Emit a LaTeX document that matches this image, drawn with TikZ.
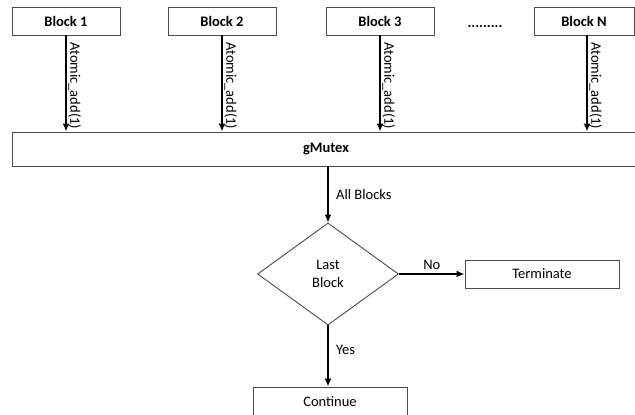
\documentclass[tikz,border=0pt]{standalone}
\usepackage{fontspec}
\setmainfont{Carlito}
\usetikzlibrary{arrows.meta,shapes.geometric,positioning}

\begin{document}
\begin{tikzpicture}[x=1pt,y=-1pt,>={Latex[length=8pt,width=7pt]},font=\fontsize{14.5}{18}\selectfont,
    block node/.style={draw=black!70,line width=0.9pt,minimum width=108,minimum height=28,inner sep=0pt,font=\fontsize{14.5}{18}\selectfont\bfseries},
    box node/.style={draw=black!70,line width=0.9pt,minimum width=154,minimum height=28,inner sep=0pt},
    decision node/.style={diamond,draw=black!70,line width=0.9pt,minimum width=141,minimum height=102,inner sep=0pt,align=center},
    flow/.style={->,line width=1.6pt,black},
    add label/.style={rotate=-90,anchor=south east,inner sep=1.5pt}]
            \clip (0,0) rectangle (635,415);
            \useasboundingbox (0,0) rectangle (635,415);

            \node[block node] (B1) at (66,21) {Block 1};
            \node[block node] (B2) at (222,21) {Block 2};
            \node[block node] (B3) at (380,21) {Block 3};
            \node[block node,minimum width=100] (BN) at (584,21) {Block N};
            \node[font=\fontsize{14.5}{18}\selectfont\bfseries] (dots) at (485,27) {.........};

            \node[block node,minimum width=628,minimum height=34] (M) at (326,149) {gMutex};

            \node[decision node] (last) at (328,274) {Last\\Block};
            \node[box node] (term) at (542,274) {Terminate};
            \node[box node,minimum height=29] (cont) at (330,401.5) {Continue};

            \draw[flow] (B1) -- (B1 |- M.north) node[add label] {Atomic\_add(1)};
            \draw[flow] (B2) -- (B2 |- M.north) node[add label] {Atomic\_add(1)};
            \draw[flow] (B3) -- (B3 |- M.north) node[add label] {Atomic\_add(1)};
            \draw[flow] ([xshift=3]BN.south) -- ([xshift=3]BN.south |- M.north) node[add label] {Atomic\_add(1)};

            \draw[flow] (last.north |- M.south) -- (last.north) node[midway,right,xshift=4] {All Blocks};
            \draw[flow] (last.east) -- (term.west) node[midway,above] {No};
            \draw[flow] (last.south) -- (last.south |- cont.north) node[pos=0.4,right,xshift=4] {Yes};
\end{tikzpicture}
\end{document}
